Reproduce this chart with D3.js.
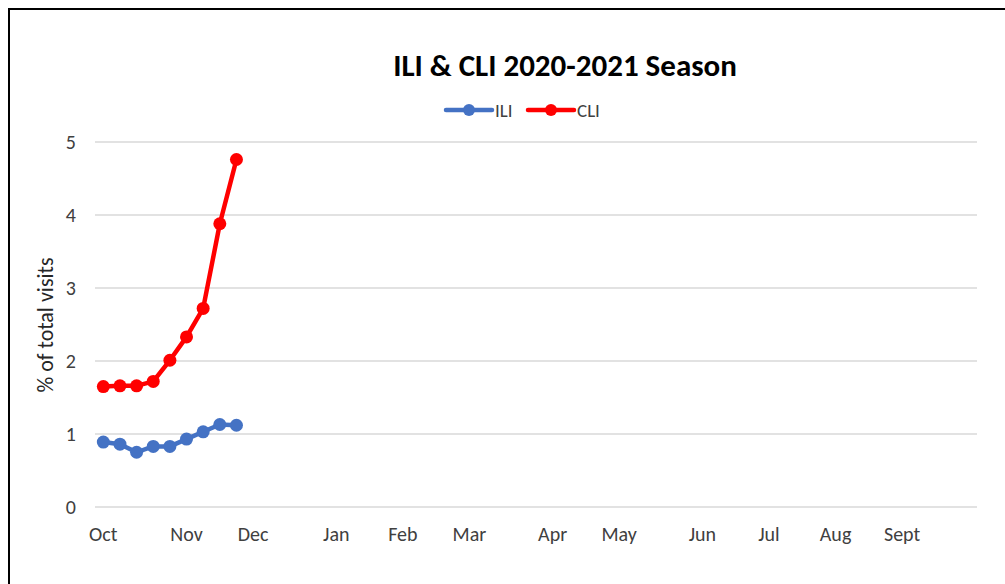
<!DOCTYPE html>
<html lang="en">
<head>
  <meta charset="utf-8" />
  <title>ILI &amp; CLI 2020-2021 Season</title>
  <script src="https://cdn.jsdelivr.net/npm/d3@7"></script>
  <style>
    body { margin: 0; background: #fff; }
    text { font-family: Carlito, Calibri, "Liberation Sans Narrow", "Open Sans", sans-serif; }
  </style>
</head>
<body>
<script>
// Weekly data, first week of Oct onward
var iliValues = [0.89, 0.86, 0.75, 0.83, 0.83, 0.93, 1.03, 1.13, 1.12];
var cliValues = [1.65, 1.66, 1.66, 1.72, 2.01, 2.33, 2.72, 3.88, 4.76];

// Month labels sit on the week where each month starts (53 weeks in the season)
var weekCount = 53;
var monthLabels = ["Oct", "Nov", "Dec", "Jan", "Feb", "Mar", "Apr", "May", "Jun", "Jul", "Aug", "Sept"];
var monthWeeks = [0, 5, 9, 14, 18, 22, 27, 31, 36, 40, 44, 48];
var yTicks = [0, 1, 2, 3, 4, 5];

var width = 1005, height = 584;
var plot = { left: 95, right: 977, top: 142, bottom: 507 };

var svg = d3.select("body").append("svg")
    .attr("width", width)
    .attr("height", height);

// chart frame (only top and left edges visible in the crop)
svg.append("path")
    .attr("d", "M9," + height + "V9H" + width)
    .attr("fill", "none")
    .attr("stroke", "#000")
    .attr("stroke-width", 2);

var x = d3.scaleBand()
    .domain(d3.range(weekCount))
    .range([plot.left, plot.right]);

var y = d3.scaleLinear()
    .domain([0, 5])
    .range([plot.bottom, plot.top]);

var xc = function(i) { return x(i) + x.bandwidth() / 2; };

// gridlines
svg.append("g")
  .selectAll("line")
  .data(yTicks)
  .enter().append("line")
    .attr("x1", plot.left)
    .attr("x2", plot.right)
    .attr("y1", function(d) { return y(d); })
    .attr("y2", function(d) { return y(d); })
    .attr("stroke", "#d9d9d9")
    .attr("stroke-width", 1.5);

// y tick labels
svg.append("g")
  .selectAll("text")
  .data(yTicks)
  .enter().append("text")
    .attr("x", 76)
    .attr("y", function(d) { return y(d); })
    .attr("dy", "0.35em")
    .attr("text-anchor", "end")
    .attr("font-size", "20px")
    .attr("fill", "#404040")
    .text(function(d) { return d; });

// month labels
svg.append("g")
  .selectAll("text")
  .data(monthLabels)
  .enter().append("text")
    .attr("x", function(d, i) { return xc(monthWeeks[i]); })
    .attr("y", 541)
    .attr("text-anchor", "middle")
    .attr("font-size", "20px")
    .attr("fill", "#404040")
    .text(function(d) { return d; });

// y axis title
svg.append("text")
    .attr("transform", "translate(53,325) rotate(-90)")
    .attr("text-anchor", "middle")
    .attr("font-size", "22px")
    .attr("fill", "#262626")
    .text("% of total visits");

// chart title
svg.append("text")
    .attr("x", 565)
    .attr("y", 76)
    .attr("text-anchor", "middle")
    .attr("font-size", "31px")
    .attr("font-weight", "bold")
    .attr("fill", "#000")
    .text("ILI & CLI 2020-2021 Season");

var series = [
  { name: "ILI", color: "#4472c4", values: iliValues, lx: 446 },
  { name: "CLI", color: "#ff0000", values: cliValues, lx: 528 }
];

var line = d3.line()
    .x(function(d, i) { return xc(i); })
    .y(function(d) { return y(d); });

series.forEach(function(s) {
  var g = svg.append("g");
  g.append("path")
      .attr("d", line(s.values))
      .attr("fill", "none")
      .attr("stroke", s.color)
      .attr("stroke-width", 4.5)
      .attr("stroke-linejoin", "round");
  g.selectAll("circle")
    .data(s.values)
    .enter().append("circle")
      .attr("cx", function(d, i) { return xc(i); })
      .attr("cy", function(d) { return y(d); })
      .attr("r", 6.5)
      .attr("fill", s.color);

  // legend entry
  var lg = svg.append("g");
  lg.append("line")
      .attr("x1", s.lx).attr("x2", s.lx + 46)
      .attr("y1", 110).attr("y2", 110)
      .attr("stroke", s.color)
      .attr("stroke-width", 4.5)
      .attr("stroke-linecap", "round");
  lg.append("circle")
      .attr("cx", s.lx + 23).attr("cy", 110).attr("r", 6)
      .attr("fill", s.color);
  lg.append("text")
      .attr("x", s.lx + 49)
      .attr("y", 110)
      .attr("dy", "0.35em")
      .attr("font-size", "19px")
      .attr("fill", "#404040")
      .text(s.name);
});
</script>
</body>
</html>
